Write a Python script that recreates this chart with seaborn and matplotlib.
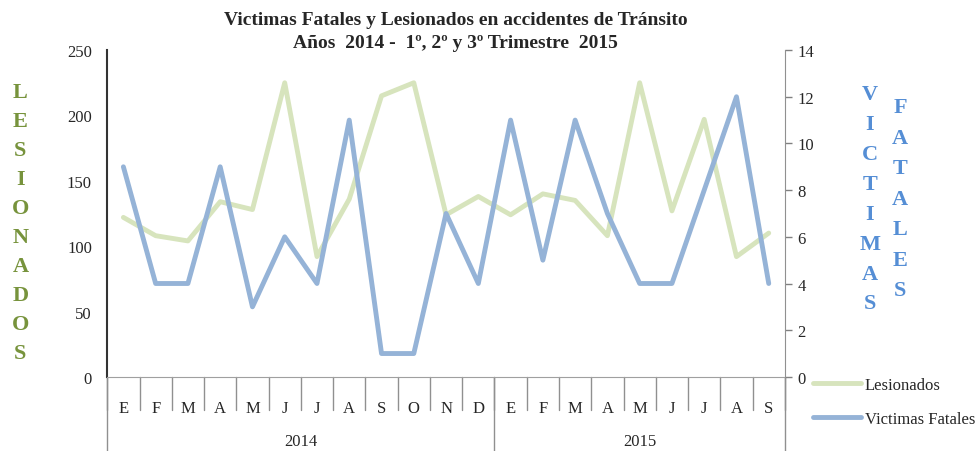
import matplotlib
matplotlib.use('Agg')
import matplotlib.pyplot as plt
import matplotlib.transforms as mtransforms
from matplotlib.lines import Line2D
import seaborn as sns
import pandas as pd

# datos
meses = ['E', 'F', 'M', 'A', 'M', 'J', 'J', 'A', 'S', 'O', 'N', 'D',
         'E', 'F', 'M', 'A', 'M', 'J', 'J', 'A', 'S']
anios = ['2014', '2015']
meses_por_anio = [12, 9]
lesionados = [122, 108, 104, 134, 128, 225, 92, 136, 215, 225, 124, 138,
              124, 140, 135, 108, 225, 127, 197, 92, 110]
fatales = [9, 4, 4, 9, 3, 6, 4, 11, 1, 1, 7, 4,
           11, 5, 11, 7, 4, 4, 8, 12, 4]

verde = '#d7e4bd'
azul = '#95b3d7'

sns.set_style('white')
plt.rcParams['font.family'] = ['Liberation Serif', 'DejaVu Serif']

df = pd.DataFrame({'pos': range(len(meses)), 'lesionados': lesionados, 'fatales': fatales})

fig = plt.figure(figsize=(9.75, 4.52), dpi=100)
ax = fig.add_axes([0.11, 0.164, 0.695, 0.723])
ax2 = ax.twinx()

sns.lineplot(data=df, x='pos', y='lesionados', ax=ax, color=verde, lw=3.5, legend=False)
sns.lineplot(data=df, x='pos', y='fatales', ax=ax2, color=azul, lw=3.5, legend=False)

n = len(meses)
ax.set_xlim(-0.5, n - 0.5)
ax.set_ylim(0, 250)
ax2.set_ylim(0, 14)
ax.set_yticks(range(0, 251, 50))
ax2.set_yticks(range(0, 15, 2))
ax.set_xlabel('')
ax.set_ylabel('')
ax2.set_ylabel('')

ax.set_xticks(range(n))
ax.set_xticklabels(meses, fontsize=12)
ax.tick_params(axis='x', length=0, pad=17)
ax.tick_params(axis='y', length=0, labelsize=12, pad=11)
ax2.tick_params(axis='y', length=5, width=1, color='#808080', labelsize=12, pad=4, direction='out')

for a in (ax, ax2):
    for s in a.spines.values():
        s.set_visible(False)
ax.spines['left'].set_visible(True)
ax.spines['left'].set_color('#333333')
ax.spines['left'].set_linewidth(1.5)
ax.spines['bottom'].set_visible(True)
ax.spines['bottom'].set_color('#a0a0a0')
ax2.spines['right'].set_visible(True)
ax2.spines['right'].set_color('#909090')
ax2.spines['right'].set_bounds(0, 14)

# ejes de categorias multinivel
tr = mtransforms.blended_transform_factory(ax.transData, ax.transAxes)
for i in range(n + 1):
    ax.plot([i - 0.5, i - 0.5], [0, -0.1], transform=tr, color='#909090', lw=1, clip_on=False)
limites = [-0.5]
for m in meses_por_anio:
    limites.append(limites[-1] + m)
for b in limites:
    ax.plot([b, b], [0, -0.23], transform=tr, color='#909090', lw=1, clip_on=False)
for k, anio in enumerate(anios):
    centro = (limites[k] + limites[k + 1]) / 2
    ax.text(centro, -0.195, anio, transform=tr, ha='center', va='center', fontsize=12)

# titulo
fig.text(0.467, 0.955, 'Victimas Fatales y Lesionados en accidentes de Tránsito',
         ha='center', va='center', fontsize=14, fontweight='bold')
fig.text(0.467, 0.903, 'Años  2014 -  1º, 2º y 3º Trimestre  2015',
         ha='center', va='center', fontsize=14, fontweight='bold')

# etiquetas verticales
fig.text(0.021, 0.505, '\n'.join('LESIONADOS'), ha='center', va='center',
         fontsize=16, fontweight='bold', color='#77933c', linespacing=1.6)
fig.text(0.892, 0.558, '\n'.join('VICTIMAS'), ha='center', va='center',
         fontsize=16, fontweight='bold', color='#558ed5', linespacing=1.66)
fig.text(0.923, 0.558, '\n'.join('FATALES'), ha='center', va='center',
         fontsize=16, fontweight='bold', color='#558ed5', linespacing=1.7)

# leyenda
handles = [Line2D([], [], color=verde, lw=3.5), Line2D([], [], color=azul, lw=3.5)]
fig.legend(handles, ['Lesionados', 'Victimas Fatales'], loc='upper left',
           bbox_to_anchor=(0.827, 0.178), frameon=False, fontsize=12,
           handlelength=2.9, labelspacing=1.05, handletextpad=0.2, borderaxespad=0)

fig.savefig('out.png', dpi=100)
